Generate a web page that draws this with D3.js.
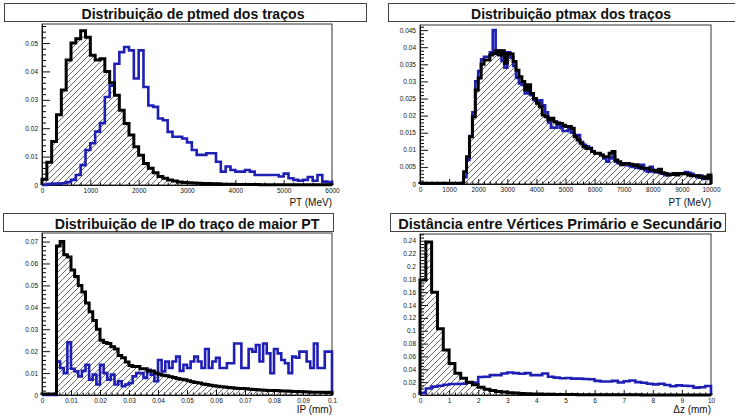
<!DOCTYPE html>
<html>
<head>
<meta charset="utf-8">
<script src="https://cdn.jsdelivr.net/npm/d3@7"></script>
<style>
body { margin: 0; background: #fff; }
svg { display: block; }
</style>
</head>
<body>
<div id="chart"></div>
<script>
"use strict";

// ---- data (bin contents) ----

// ptmed, 60 bins over 0..6000 MeV
var ptmedBlack = [
    0.002, 0.008, 0.0153, 0.0247, 0.0335, 0.044, 0.050, 0.0515, 0.0543, 0.052,
    0.0457, 0.044, 0.0445, 0.040, 0.036, 0.0316, 0.0263, 0.0217, 0.0176, 0.0135,
    0.0105, 0.0076, 0.0059, 0.0043, 0.003, 0.0024, 0.0018, 0.0014, 0.0011, 0.0009,
    0.0008, 0.0007, 0.0006, 0.0005, 0.0005, 0.0004, 0.0004, 0.0003, 0.0003, 0.0003,
    0.0002, 0.0002, 0.0002, 0.0002, 0.0002, 0.0001, 0.0001, 0.0001, 0.0001, 0.0001,
    0.0001, 0.0001, 0.0001, 0.0001, 0.0001, 0.0001, 0.0001, 0.0001, 0.0001, 0.0001
];
var ptmedBlue = [
    0, 0.0003, 0.0005, 0.0005, 0.0006, 0.001, 0.0018, 0.0035, 0.007, 0.0123,
    0.0147, 0.0188, 0.0218, 0.031, 0.035, 0.0427, 0.0468, 0.0486, 0.0474, 0.0375,
    0.0474, 0.0345, 0.028, 0.0275, 0.0234, 0.0228, 0.0187, 0.017, 0.017, 0.0164,
    0.015, 0.0123, 0.0106, 0.0106, 0.0112, 0.0112, 0.0082, 0.0047, 0.0065, 0.0053,
    0.0047, 0.0047, 0.0053, 0.0047, 0.0035, 0.0035, 0.0035, 0.0035, 0.0035, 0.003,
    0.004, 0.0024, 0.0018, 0.0015, 0.0018, 0.0028, 0.0015, 0.0035, 0.0012, 0.001
];

// ptmax, 100 bins over 0..10000 MeV
var ptmaxBlack = [
    0.0002, 0.0002, 0.0002, 0.0002, 0.0002, 0.0002, 0.0002, 0.0002, 0.0002, 0.0002,
    0.0002, 0.0002, 0.0002, 0.0002, 0.0002, 0.0036, 0.008, 0.0138, 0.0197, 0.0275,
    0.031, 0.035, 0.0363, 0.0363, 0.0377, 0.0382, 0.039, 0.0377, 0.039, 0.0353,
    0.0382, 0.038, 0.0358, 0.0333, 0.0314, 0.030, 0.0275, 0.029, 0.0265, 0.025,
    0.0236, 0.0226, 0.0202, 0.0197, 0.0187, 0.0192, 0.0182, 0.0177, 0.0177, 0.0172,
    0.0168, 0.0168, 0.0163, 0.0138, 0.0129, 0.0119, 0.0109, 0.0104, 0.0104, 0.0095,
    0.009, 0.009, 0.0085, 0.008, 0.008, 0.009, 0.0095, 0.007, 0.0065, 0.0056,
    0.006, 0.006, 0.0058, 0.0054, 0.0056, 0.005, 0.0046, 0.0046, 0.0046, 0.004,
    0.004, 0.0036, 0.0043, 0.0033, 0.0031, 0.0026, 0.0028, 0.0031, 0.0026, 0.003,
    0.0031, 0.003, 0.0026, 0.0024, 0.0024, 0.0024, 0.002, 0.0021, 0.0017, 0.0026
];
var ptmaxBlue = [
    0.0002, 0.0002, 0.0002, 0.0002, 0.0002, 0.0002, 0.0002, 0.0002, 0.0002, 0.0002,
    0.0002, 0.0002, 0.0002, 0.0002, 0.0002, 0.002, 0.007, 0.014, 0.021, 0.030,
    0.033, 0.0365, 0.0372, 0.0372, 0.0385, 0.045, 0.038, 0.039, 0.036, 0.034,
    0.0385, 0.037, 0.0345, 0.031, 0.0294, 0.029, 0.0265, 0.027, 0.026, 0.0245,
    0.024, 0.0245, 0.023, 0.021, 0.018, 0.0165, 0.0165, 0.018, 0.0165, 0.0155,
    0.0155, 0.016, 0.015, 0.0143, 0.0143, 0.0123, 0.0115, 0.011, 0.0106, 0.0095,
    0.009, 0.009, 0.0085, 0.0075, 0.0065, 0.0075, 0.008, 0.0065, 0.006, 0.0058,
    0.0058, 0.0055, 0.0052, 0.005, 0.0048, 0.0046, 0.0056, 0.004, 0.0036, 0.005,
    0.0035, 0.0035, 0.0032, 0.003, 0.0026, 0.0028, 0.003, 0.0028, 0.003, 0.0031,
    0.0031, 0.0035, 0.0033, 0.003, 0.0025, 0.002, 0.0025, 0.0015, 0.0017, 0.002
];

// IP of the highest-PT track, 80 bins over 0..0.1 mm
var ipBlack = [
    0.0005, 0.0005, 0.0005, 0.0005,
    0.068, 0.070, 0.064, 0.063, 0.057, 0.054, 0.050, 0.047, 0.042, 0.038,
    0.034, 0.030, 0.025, 0.024, 0.0235, 0.022, 0.021, 0.018, 0.017, 0.015,
    0.0135, 0.013, 0.013, 0.012, 0.012, 0.011, 0.011, 0.010, 0.0095, 0.009,
    0.0088, 0.0083, 0.008, 0.0075, 0.0072, 0.007, 0.0065, 0.006, 0.0057, 0.0055,
    0.005, 0.0048, 0.0045, 0.0042, 0.004, 0.0038, 0.0036, 0.0034, 0.0033, 0.0031,
    0.003, 0.003, 0.0028, 0.0026, 0.0025, 0.0024, 0.0023, 0.0022, 0.0021, 0.002,
    0.002, 0.0019, 0.0018, 0.0018, 0.0017, 0.0016, 0.0016, 0.0015, 0.0015, 0.0014,
    0.0013, 0.0013, 0.0012, 0.0012, 0.0011, 0.0013
];
var ipBlue = [
    0, 0, 0, 0,
    0.0153, 0.0123, 0.010, 0.024, 0.012, 0.0108, 0.0085, 0.011, 0.0138, 0.007,
    0.0093, 0.0048, 0.0138, 0.010, 0.007, 0.0093, 0.0048, 0.0063, 0.004, 0.0048,
    0.0055, 0.0085, 0.010, 0.010, 0.0078, 0.0115, 0.0093, 0.0063, 0.016, 0.0108,
    0.0153, 0.0123, 0.0153, 0.0175, 0.011, 0.0138, 0.0123, 0.0153, 0.0175, 0.0153,
    0.0123, 0.021, 0.0123, 0.0153, 0.017, 0.0123, 0.0123, 0.0145, 0.0145, 0.0235,
    0.0235, 0.0123, 0.0123, 0.021, 0.0198, 0.0228, 0.0153, 0.0235, 0.019, 0.010,
    0.021, 0.019, 0.016, 0.0145, 0.010, 0.0175, 0.017, 0.0198, 0.0198, 0.0153,
    0.0123, 0.0235, 0.0123, 0.0123, 0.0198, 0.0198
];

// distance between primary and secondary vertices, 50 bins over 0..10 mm
var dzBlack = [
    0.179, 0.238, 0.160, 0.103, 0.070, 0.049, 0.034, 0.026, 0.020, 0.016,
    0.012, 0.009, 0.007, 0.0055, 0.0045, 0.0035, 0.003, 0.0025, 0.002, 0.0017,
    0.0014, 0.0012, 0.001, 0.0009, 0.0008, 0.0007, 0.0006, 0.0005, 0.0005, 0.0004,
    0.0004, 0.0003, 0.0003, 0.0003, 0.0002, 0.0002, 0.0002, 0.0002, 0.0001, 0.0001,
    0.0001, 0.0001, 0.0001, 0.0001, 0.0001, 0.0001, 0.0001, 0.0001, 0.0001, 0.0001
];
var dzBlue = [
    0.003, 0.010, 0.013, 0.0145, 0.016, 0.017, 0.017, 0.0175, 0.019, 0.0195,
    0.028, 0.0285, 0.031, 0.031, 0.0335, 0.035, 0.034, 0.033, 0.034, 0.031,
    0.031, 0.0335, 0.0285, 0.027, 0.026, 0.0265, 0.0255, 0.0255, 0.025, 0.0245,
    0.022, 0.021, 0.021, 0.022, 0.0195, 0.0215, 0.0225, 0.02, 0.019, 0.0175,
    0.0165, 0.0175, 0.0155, 0.0135, 0.015, 0.0145, 0.014, 0.0115, 0.012, 0.014
];

// tick labels
var ptmedXTicks = [0, 1000, 2000, 3000, 4000, 5000, 6000];
var ptmedYTicks = [0, 0.01, 0.02, 0.03, 0.04, 0.05];
var ptmaxXTicks = [0, 1000, 2000, 3000, 4000, 5000, 6000, 7000, 8000, 9000, 10000];
var ptmaxYTicks = [0, 0.005, 0.01, 0.015, 0.02, 0.025, 0.03, 0.035, 0.04, 0.045];
var ipXTicks = [0, 0.01, 0.02, 0.03, 0.04, 0.05, 0.06, 0.07, 0.08, 0.09, 0.1];
var ipYTicks = [0, 0.01, 0.02, 0.03, 0.04, 0.05, 0.06, 0.07];
var dzXTicks = [0, 1, 2, 3, 4, 5, 6, 7, 8, 9, 10];
var dzYTicks = [0, 0.02, 0.04, 0.06, 0.08, 0.1, 0.12, 0.14, 0.16, 0.18, 0.2, 0.22, 0.24];

var titles = [
    'Distribuição de ptmed dos traços',
    'Distribuição ptmax dos traços',
    'Distribuição de IP do traço de maior PT',
    'Distância entre Vértices Primário e Secundário'
];
var xTitles = ['PT (MeV)', 'PT (MeV)', 'IP (mm)', '\u0394z (mm)'];

// ---- layout ----
var panels = [
    {
        title: titles[0], box: [4, 3, 366, 21], titleX: 193, titleW: 223, titleY: 19,
        frame: {left: 42, right: 332, top: 24, bottom: 185},
        xDomain: [0, 6000], yMax: 0.0567, xTicks: ptmedXTicks, yTicks: ptmedYTicks,
        xMinor: 200, yMinor: 0.002, xTitle: xTitles[0], titleBase: 206,
        black: ptmedBlack, blue: ptmedBlue
    },
    {
        title: titles[1], box: [388, 3, 736, 21], titleX: 571, titleW: 200, titleY: 19,
        frame: {left: 420, right: 711, top: 25, bottom: 184},
        xDomain: [0, 10000], yMax: 0.0465, xTicks: ptmaxXTicks, yTicks: ptmaxYTicks,
        xMinor: 200, yMinor: 0.001, xTitle: xTitles[1], titleBase: 206,
        black: ptmaxBlack, blue: ptmaxBlue
    },
    {
        title: titles[2], box: [3, 213, 333, 231], titleX: 187, titleW: 265, titleY: 229,
        frame: {left: 42, right: 332, top: 233, bottom: 395},
        xDomain: [0, 0.1], yMax: 0.0739, xTicks: ipXTicks, yTicks: ipYTicks,
        xMinor: 0.002, yMinor: 0.002, xTitle: xTitles[2], titleBase: 413,
        black: ipBlack, blue: ipBlue
    },
    {
        title: titles[3], box: [390, 213, 725, 231], titleX: 560, titleW: 324, titleY: 229,
        frame: {left: 420, right: 711, top: 234, bottom: 395},
        xDomain: [0, 10], yMax: 0.2505, xTicks: dzXTicks, yTicks: dzYTicks,
        xMinor: 0.2, yMinor: 0.005, xTitle: xTitles[3], titleBase: 413,
        black: dzBlack, blue: dzBlue
    }
];

var FONT = "'Liberation Sans', Arial, Helvetica, sans-serif";

var svg = d3.select('#chart').append('svg')
    .attr('width', 735)
    .attr('height', 419);

svg.append('rect')
    .attr('width', 735)
    .attr('height', 419)
    .attr('fill', '#fff');

// 45 degree hatching used by ROOT fill style 3004
var pattern = svg.append('defs').append('pattern')
    .attr('id', 'hatch')
    .attr('patternUnits', 'userSpaceOnUse')
    .attr('width', 6)
    .attr('height', 6);
pattern.append('path')
    .attr('d', 'M-1,1 L1,-1 M0,6 L6,0 M5,7 L7,5')
    .attr('stroke', '#3a3a3a')
    .attr('stroke-width', 0.75);

function minorTicks(lo, hi, step, majors) {
    var out = [];
    var n = Math.floor((hi - lo) / step + 1e-6);
    for (var i = 0; i <= n; i++) {
        var v = lo + i * step;
        var isMajor = majors.some(function (m) { return Math.abs(m - v) < step * 1e-3; });
        if (!isMajor) out.push(v);
    }
    return out;
}

function stepPoints(values, domain) {
    var w = (domain[1] - domain[0]) / values.length;
    var pts = [[domain[0], 0]];
    values.forEach(function (v, i) {
        pts.push([domain[0] + i * w, v]);
        pts.push([domain[0] + (i + 1) * w, v]);
    });
    pts.push([domain[1], 0]);
    return pts;
}

function drawPanel(p) {
    var g = svg.append('g');
    var f = p.frame;

    // title box
    g.append('rect')
        .attr('x', p.box[0] + 0.5)
        .attr('y', p.box[1] + 0.5)
        .attr('width', p.box[2] - p.box[0])
        .attr('height', p.box[3] - p.box[1])
        .attr('fill', '#fff')
        .attr('stroke', '#444')
        .attr('stroke-width', 1);

    var title = g.append('text')
        .attr('x', p.titleX)
        .attr('y', p.titleY)
        .attr('text-anchor', 'middle')
        .attr('font-family', FONT)
        .attr('font-weight', 'bold')
        .attr('font-size', 13)
        .attr('fill', '#111')
        .text(p.title);
    var len = title.node().getComputedTextLength();
    if (len > 0) {
        var size = Math.max(11, Math.min(15, 13 * p.titleW / len));
        title.attr('font-size', size);
    }

    var x = d3.scaleLinear().domain(p.xDomain).range([f.left, f.right]);
    var y = d3.scaleLinear().domain([0, p.yMax]).range([f.bottom, f.top]);

    // frame
    g.append('rect')
        .attr('x', f.left)
        .attr('y', f.top)
        .attr('width', f.right - f.left)
        .attr('height', f.bottom - f.top)
        .attr('fill', 'none')
        .attr('stroke', '#333')
        .attr('stroke-width', 1);

    var fmt = d3.format('~g');

    var yAxis = d3.axisLeft(y)
        .tickValues(p.yTicks)
        .tickSizeInner(-8)
        .tickSizeOuter(0)
        .tickPadding(4)
        .tickFormat(fmt);
    var ya = g.append('g')
        .attr('transform', 'translate(' + f.left + ',0)')
        .call(yAxis);

    var yMinorAxis = d3.axisLeft(y)
        .tickValues(minorTicks(0, p.yMax, p.yMinor, p.yTicks))
        .tickSizeInner(-4)
        .tickSizeOuter(0)
        .tickFormat('');
    g.append('g')
        .attr('transform', 'translate(' + f.left + ',0)')
        .call(yMinorAxis)
        .call(function (s) { s.select('.domain').remove(); });

    var xAxis = d3.axisBottom(x)
        .tickValues(p.xTicks)
        .tickSizeInner(-5)
        .tickSizeOuter(0)
        .tickPadding(3)
        .tickFormat(fmt);
    var xa = g.append('g')
        .attr('transform', 'translate(0,' + f.bottom + ')')
        .call(xAxis);

    var xMinorAxis = d3.axisBottom(x)
        .tickValues(minorTicks(p.xDomain[0], p.xDomain[1], p.xMinor, p.xTicks))
        .tickSizeInner(-2.5)
        .tickSizeOuter(0)
        .tickFormat('');
    g.append('g')
        .attr('transform', 'translate(0,' + f.bottom + ')')
        .call(xMinorAxis)
        .call(function (s) { s.select('.domain').remove(); });

    [ya, xa].forEach(function (a) {
        a.attr('font-family', FONT)
            .attr('font-size', 6.5)
            .attr('color', '#111');
    });

    g.append('text')
        .attr('x', f.right)
        .attr('y', p.titleBase)
        .attr('text-anchor', 'end')
        .attr('font-family', FONT)
        .attr('font-size', 10)
        .attr('fill', '#111')
        .text(p.xTitle);

    // histograms
    var line = d3.line()
        .x(function (d) { return x(d[0]); })
        .y(function (d) { return y(d[1]); });

    var blackPts = stepPoints(p.black, p.xDomain);
    var bluePts = stepPoints(p.blue, p.xDomain);

    g.append('path')
        .attr('d', line(blackPts) + 'Z')
        .attr('fill', 'url(#hatch)')
        .attr('stroke', 'none');

    g.append('path')
        .attr('d', line(bluePts))
        .attr('fill', 'none')
        .attr('stroke', '#1f1fb4')
        .attr('stroke-width', 2.6)
        .attr('stroke-linejoin', 'miter');

    g.append('path')
        .attr('d', line(blackPts))
        .attr('fill', 'none')
        .attr('stroke', '#000')
        .attr('stroke-width', 3)
        .attr('stroke-linejoin', 'miter');
}

panels.forEach(drawPanel);
</script>
</body>
</html>
